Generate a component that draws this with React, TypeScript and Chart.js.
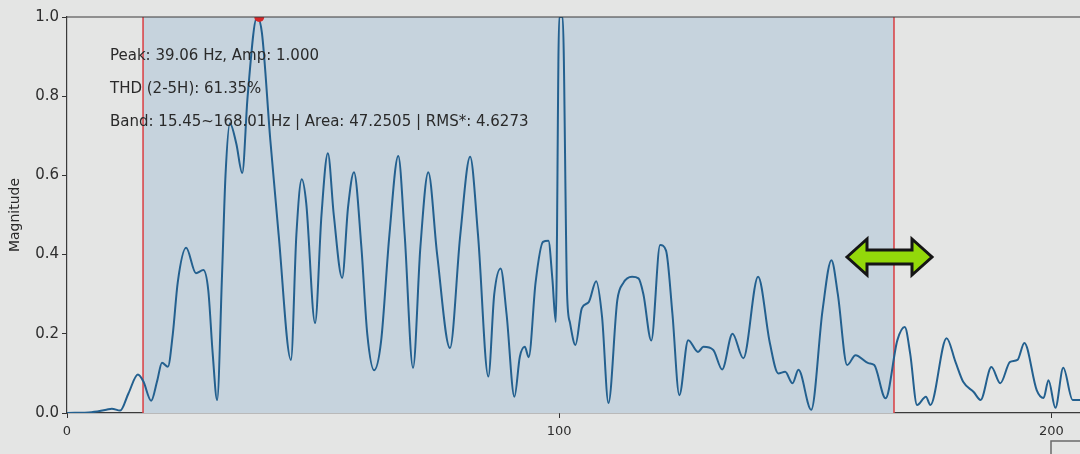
import React, { useEffect, useRef } from "react";
import { Chart, registerables } from "chart.js";

Chart.register(...registerables);

// Spectrum trace (Hz, normalised magnitude)
const FREQ_HZ = [
  0, 5, 8, 9.1, 10.8, 12.5, 14.4, 15.5, 17.1, 18.3, 19.3, 20.5, 21.5, 22.5, 24.2, 26.2, 27.7, 28.7, 29.6, 30.5,
  31.5, 32.2, 33.1, 34.4, 35.6, 36.7, 38.6, 39.6, 41.3, 43.0, 45.5, 46.6, 47.7, 48.6, 50.4, 51.7, 53.0, 54.2,
  55.9, 57.1, 58.3, 59.8, 61.0, 62.4, 63.8, 65.5, 67.3, 68.6, 70.3, 71.8, 73.4, 75.2, 77.8, 79.9, 81.9, 83.5,
  85.6, 86.8, 88.1, 89.3, 90.9, 92.0, 93.0, 93.8, 95.2, 96.7, 97.8, 98.6, 99.3, 100.0, 100.7, 101.6, 102.2,
  103.3, 104.6, 106.0, 107.5, 108.7, 110.0, 111.8, 113.0, 114.8, 116.1, 117.1, 118.7, 120.5, 121.7, 123.0,
  124.4, 126.2, 128.2, 129.3, 131.3, 133.1, 135.2, 137.4, 140.4, 142.8, 144.5, 145.9, 147.4, 148.6, 151.2,
  153.5, 155.3, 156.6, 158.5, 160.2, 162.8, 164.0, 166.3, 168.7, 170.2, 171.3, 172.7, 174.5, 175.4, 178.7,
  180.5, 182.1, 184.2, 185.6, 187.8, 189.6, 191.6, 193.1, 194.5, 197.0, 198.4, 199.4, 200.8, 202.4, 204.3, 205.8,
];
const MAGNITUDE = [
  0, 0.002, 0.008, 0.011, 0.006, 0.05, 0.097, 0.08, 0.031, 0.08, 0.127, 0.117, 0.2, 0.33, 0.417, 0.353, 0.361, 0.31, 0.15, 0.033,
  0.35, 0.6, 0.732, 0.68, 0.606, 0.8, 1.0, 0.96, 0.69, 0.45, 0.134, 0.45, 0.59, 0.53, 0.227, 0.5, 0.656, 0.5,
  0.341, 0.52, 0.608, 0.42, 0.2, 0.108, 0.18, 0.45, 0.649, 0.45, 0.114, 0.42, 0.608, 0.4, 0.164, 0.45, 0.647, 0.45,
  0.092, 0.3, 0.365, 0.25, 0.041, 0.142, 0.167, 0.141, 0.33, 0.432, 0.435, 0.34, 0.23, 1.0, 1.0, 0.3, 0.227,
  0.172, 0.265, 0.28, 0.333, 0.243, 0.025, 0.285, 0.328, 0.344, 0.34, 0.3, 0.183, 0.424, 0.41, 0.25,
  0.045, 0.184, 0.154, 0.167, 0.159, 0.11, 0.2, 0.138, 0.344, 0.176, 0.1, 0.104, 0.075, 0.109, 0.008,
  0.26, 0.386, 0.3, 0.121, 0.146, 0.126, 0.121, 0.037, 0.184, 0.217, 0.15, 0.02, 0.041, 0.02, 0.189,
  0.129, 0.078, 0.053, 0.033, 0.116, 0.075, 0.129, 0.134, 0.177, 0.058, 0.038, 0.083, 0.013, 0.114, 0.033, 0.033,
];
const BAND_HZ = [15.45, 168.01];
const PEAK_HZ = [39.06];
const PEAK_AMP = [1.0];
const INFO_LINES = [
  "Peak: 39.06 Hz, Amp: 1.000",
  "THD (2-5H): 61.35%",
  "Band: 15.45~168.01 Hz | Area: 47.2505 | RMS*: 4.6273",
];
const X_TICKS = [0, 100, 200];
const Y_TICKS = [0, 0.2, 0.4, 0.6, 0.8, 1.0];
const X_RANGE = [0, 205.8];
const Y_RANGE = [0, 1.0];
const Y_TITLE = "Magnitude";

const FONT = "'DejaVu Sans', sans-serif";

const overlayPlugin = {
  id: "overlay",
  beforeDatasetsDraw(chart: any) {
    const { ctx, chartArea, scales } = chart;
    const x0 = scales.x.getPixelForValue(BAND_HZ[0]);
    const x1 = scales.x.getPixelForValue(BAND_HZ[1]);
    ctx.save();
    ctx.fillStyle = "#c6d3dd";
    ctx.fillRect(x0, chartArea.top, x1 - x0, chartArea.bottom - chartArea.top);
    ctx.strokeStyle = "#d9474c";
    ctx.lineWidth = 1.6;
    [x0, x1].forEach((x) => {
      ctx.beginPath();
      ctx.moveTo(x, chartArea.top);
      ctx.lineTo(x, chartArea.bottom);
      ctx.stroke();
    });
    ctx.restore();
  },
  afterDraw(chart: any) {
    const { ctx, chartArea } = chart;
    ctx.save();
    // top spine
    ctx.strokeStyle = "#3a3a3a";
    ctx.lineWidth = 1.2;
    ctx.beginPath();
    ctx.moveTo(chartArea.left, chartArea.top);
    ctx.lineTo(chart.width, chartArea.top);
    ctx.stroke();
    // info text
    ctx.fillStyle = "#2a2a2a";
    ctx.font = `15px ${FONT}`;
    ctx.textBaseline = "middle";
    ctx.textAlign = "left";
    INFO_LINES.forEach((t, i) => {
      ctx.fillText(t, chartArea.left + 43, chartArea.top + 39 + i * 33);
    });
    // green double arrow overlay
    const cy = 257;
    const lx = 847;
    const rx = 932;
    const hl = 20;
    const hh = 18;
    const sh = 7;
    ctx.beginPath();
    ctx.moveTo(lx, cy);
    ctx.lineTo(lx + hl, cy - hh);
    ctx.lineTo(lx + hl, cy - sh);
    ctx.lineTo(rx - hl, cy - sh);
    ctx.lineTo(rx - hl, cy - hh);
    ctx.lineTo(rx, cy);
    ctx.lineTo(rx - hl, cy + hh);
    ctx.lineTo(rx - hl, cy + sh);
    ctx.lineTo(lx + hl, cy + sh);
    ctx.lineTo(lx + hl, cy + hh);
    ctx.closePath();
    ctx.fillStyle = "#93d80a";
    ctx.fill();
    ctx.lineJoin = "miter";
    ctx.strokeStyle = "#151515";
    ctx.lineWidth = 3;
    ctx.stroke();
    // partial widget frame at bottom right
    ctx.strokeStyle = "#6a6a6a";
    ctx.lineWidth = 1.5;
    ctx.strokeRect(1051, 441, 60, 30);
    ctx.restore();
  },
};

export default function App() {
  const ref = useRef<HTMLCanvasElement | null>(null);

  useEffect(() => {
    document.body.style.margin = "0";
    const canvas = ref.current;
    if (!canvas) return;
    const lineData = FREQ_HZ.map((x, i) => ({ x, y: MAGNITUDE[i] }));
    const peakData = PEAK_HZ.map((x, i) => ({ x, y: PEAK_AMP[i] }));
    const chart = new Chart(canvas, {
      type: "line",
      data: {
        datasets: [
          {
            data: lineData,
            borderColor: "#23608f",
            borderWidth: 2,
            pointRadius: 0,
            cubicInterpolationMode: "monotone",
            fill: false,
            order: 2,
          },
          {
            data: peakData,
            showLine: false,
            pointRadius: 5,
            pointBackgroundColor: "#d62728",
            pointBorderWidth: 0,
            order: 1,
          },
        ],
      },
      options: {
        responsive: false,
        animation: false,
        events: [],
        layout: { autoPadding: false, padding: { top: 17, right: 0, left: 0, bottom: 0 } },
        plugins: { legend: { display: false }, tooltip: { enabled: false } },
        scales: {
          x: {
            type: "linear",
            min: X_RANGE[0],
            max: X_RANGE[1],
            afterBuildTicks: (s: any) => {
              s.ticks = X_TICKS.map((v) => ({ value: v }));
            },
            afterFit: (s: any) => {
              s.height = 41;
            },
            grid: { display: true, drawOnChartArea: false, drawTicks: true, tickLength: 5, tickColor: "#333", tickWidth: 1 },
            border: { display: true, color: "#3a3a3a", width: 1.2 },
            ticks: {
              autoSkip: false,
              maxRotation: 0,
              padding: 6,
              color: "#2e2e2e",
              font: { family: FONT, size: 13 },
              callback: (v: any) => String(v),
            },
          },
          y: {
            min: Y_RANGE[0],
            max: Y_RANGE[1],
            afterBuildTicks: (s: any) => {
              s.ticks = Y_TICKS.map((v) => ({ value: v }));
            },
            afterFit: (s: any) => {
              s.width = 67;
            },
            grid: { display: true, drawOnChartArea: false, drawTicks: true, tickLength: 5, tickColor: "#333", tickWidth: 1 },
            border: { display: true, color: "#3a3a3a", width: 1.2 },
            title: {
              display: true,
              text: Y_TITLE,
              color: "#2a2a2a",
              font: { family: FONT, size: 14 },
              padding: { top: 7, bottom: 0 },
            },
            ticks: {
              autoSkip: false,
              padding: 3,
              color: "#2e2e2e",
              font: { family: FONT, size: 15 },
              callback: (v: any) => Number(v).toFixed(1),
            },
          },
        },
      },
      plugins: [overlayPlugin],
    });
    return () => chart.destroy();
  }, []);

  return (
    <div style={{ position: "fixed", left: 0, top: 0, width: 1080, height: 454, background: "#e4e5e4" }}>
      <canvas ref={ref} width={1080} height={454} style={{ display: "block" }} />
    </div>
  );
}
